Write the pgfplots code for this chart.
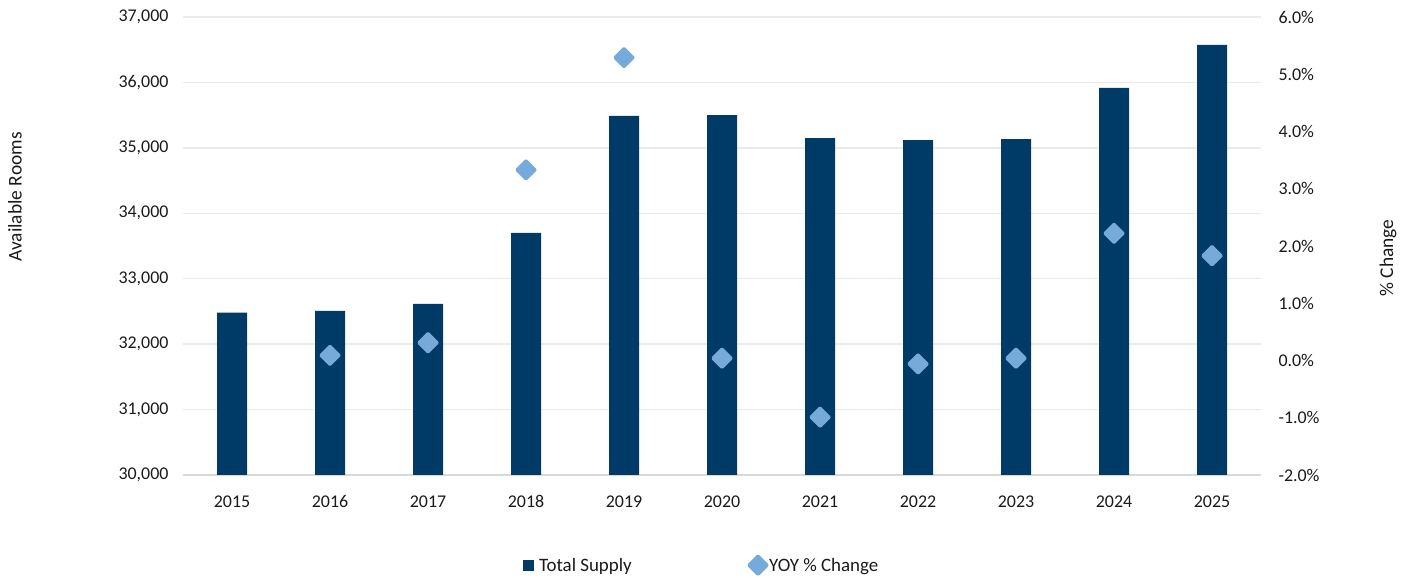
\documentclass[border=0pt]{standalone}
\usepackage{fontspec}
\setmainfont{Carlito}
\usepackage{pgfplots}
\pgfplotsset{compat=1.18}
\definecolor{barblue}{HTML}{003A66}
\definecolor{dia}{HTML}{75AADB}
\definecolor{gridc}{HTML}{EBEBEB}
\definecolor{axc}{HTML}{D9D9D9}
\definecolor{txt}{HTML}{1A1A1A}
\newcommand{\fs}{\fontsize{18}{21}\selectfont}
\newcommand{\fl}{\fontsize{19.5}{23}\selectfont}
\newcommand{\fg}{\fontsize{19}{22}\selectfont}
\begin{document}
\begin{tikzpicture}
\useasboundingbox (0bp,0bp) rectangle (1411bp,578bp);
\begin{axis}[
  at={(183bp,103bp)}, anchor=south west,
  width=1078bp, height=458bp, scale only axis,
  xmin=-0.5, xmax=10.5, ymin=30000, ymax=37000,
  xtick={0,...,10},
  xticklabels={2015,2016,2017,2018,2019,2020,2021,2022,2023,2024,2025},
  ytick={30000,31000,...,37000},
  scaled y ticks=false,
  ymajorgrids, grid style={gridc, line width=1.5bp},
  axis x line*=bottom, axis y line*=left,
  y axis line style={draw=none},
  x axis line style={axc, line width=1.5bp, -},
  major tick length=0pt,
  tick label style={font=\fs, text=txt},
  yticklabel style={xshift=-11bp},
  xticklabel style={yshift=-17bp},
  /pgf/number format/.cd, 1000 sep={,}, assume math mode=true, /pgfplots/.cd,
  ylabel={Available Rooms},
  ylabel style={font=\fl, text=txt, at={(axis description cs:-0.1558,0.607)}, anchor=center},
  clip=true,
]
\addplot[ybar, bar width=30bp, fill=barblue, draw=none] coordinates {
(0,32480) (1,32510) (2,32615) (3,33700) (4,35488) (5,35502)
(6,35150) (7,35120) (8,35135) (9,35915) (10,36572)};
\end{axis}
\begin{axis}[
  at={(183bp,103bp)}, anchor=south west,
  width=1078bp, height=458bp, scale only axis,
  xmin=-0.5, xmax=10.5, ymin=-2, ymax=6,
  axis x line=none, axis y line*=right,
  y axis line style={draw=none},
  ytick={-2,-1,...,6},
  major tick length=0pt,
  tick label style={font=\fs, text=txt},
  yticklabel style={xshift=14bp},
  yticklabel={\pgfmathprintnumber[fixed,fixed zerofill,precision=1,assume math mode=true]{\tick}\%},
  ylabel={\% Change},
  ylabel style={font=\fl, text=txt, at={(axis description cs:1.1178,0.474)}, anchor=center},
  clip=false,
  legend style={at={(axis description cs:0.481,-0.197)}, anchor=center, draw=none, fill=none,
    legend columns=2, font=\fg, text=txt,
    /tikz/every even column/.append style={column sep=115bp}},
]
\addlegendimage{legend image code/.code={\fill[barblue] (0bp,-5bp) rectangle (10bp,5bp); \path (14bp,0bp);}}
\addlegendentry{Total Supply}
\addplot[only marks, mark=square*, mark size=6.5bp,
  mark options={rotate=45, fill=dia, draw=dia, line width=3bp, line join=round}] coordinates {
(1,0.09) (2,0.31) (3,3.33) (4,5.29) (5,0.04) (6,-0.99) (7,-0.06) (8,0.04) (9,2.22) (10,1.83)};
\addlegendentry{YOY \% Change}
\end{axis}
\end{tikzpicture}
\end{document}
